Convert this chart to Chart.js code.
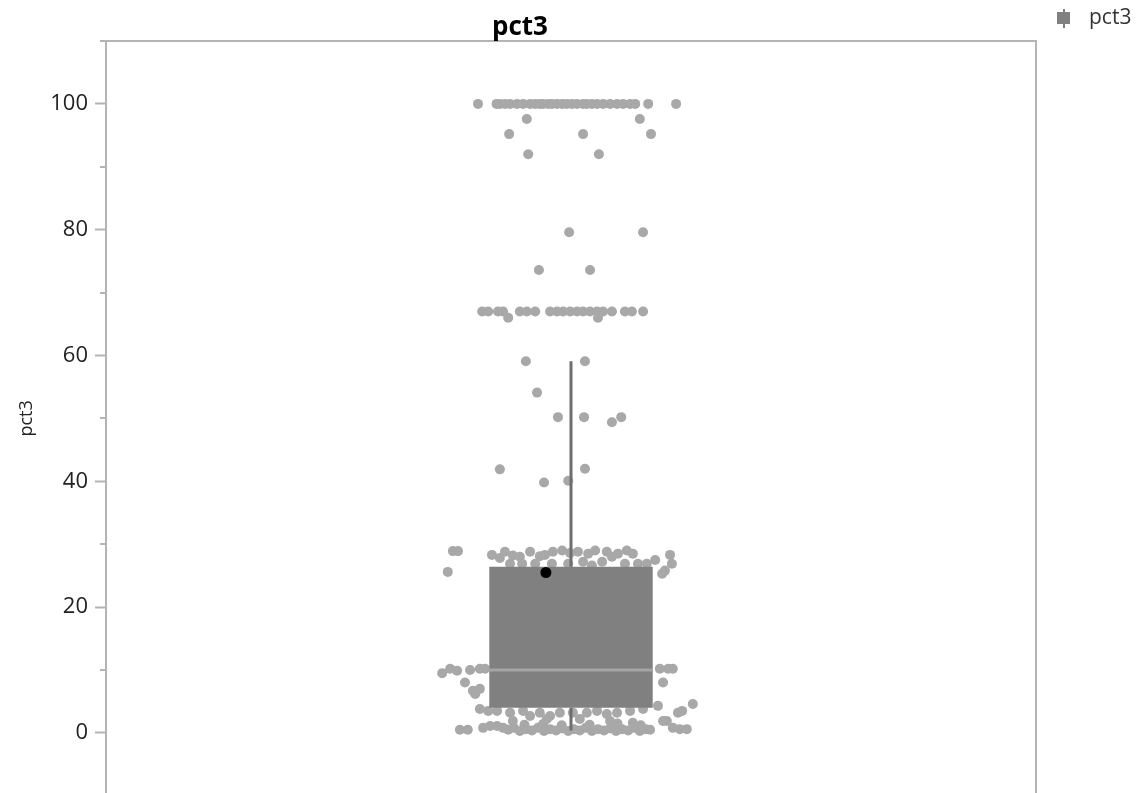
<!DOCTYPE html>
<html>
<head>
<meta charset="utf-8">
<script src="https://cdn.jsdelivr.net/npm/chart.js@4/dist/chart.umd.min.js"></script>
<style>
  html, body { margin: 0; padding: 0; background: #ffffff; overflow: hidden; }
  #wrap { position: relative; width: 1142px; height: 816px; }
</style>
</head>
<body>
<div id="wrap"><canvas id="c" width="1142" height="816"></canvas></div>
<script>
// ---------- data ----------
const categories = ['pct3'];
const seriesName = 'pct3';

// individual observations (value) and their horizontal jitter (same order)
const pointValues = [
  100,100,100,100,100,100,100,100,100,100,100,100,100,100,100,100,100,100,100,100,100,100,100,100,100,100,100,100,100,100,
  97.6,97.6,95.2,95.2,95.2,92.0,92.0,79.6,79.6,73.6,73.6,
  67,67,67,67,67,67,67,67,67,67,67,67,67,67,67,67,67,67,67,67,
  66.0,66.0,59.1,59.1,54.1,50.2,50.2,50.2,49.4,41.9,42.0,39.8,40.1,
  28.9,28.9,25.6,28.3,28.8,28.2,26.9,28.8,28.3,28.8,29.0,26.9,26.9,28.8,28.5,29.0,28.8,27.2,27.2,28.5,
  29.0,28.5,26.9,26.9,28.3,26.9,25.8,25.3,26.9,26.9,26.6,26.9,27.8,28.0,28.1,28.6,28.0,27.5,
  9.5,10.2,9.9,8.0,6.7,7.0,6.2,10.0,10.2,10.2,10.2,10.2,10.2,8.0,
  10,10,10,10,10,10,10,15.4,18.2,12.5,20,22.7,5.6,6.5,
  3.8,3.5,3.5,3.2,3.5,2.7,3.2,2.7,3.2,3.2,3.2,3.5,3.0,3.2,3.5,3.8,4.3,1.9,3.2,3.5,4.6,
  1.9,2.2,2.2,1.9,1.6,1.9,
  0.5,0.5,0.8,1.1,1.1,0.8,0.5,0.8,0.3,0.6,0.4,0.8,0.3,0.6,0.4,0.7,0.3,0.6,0.4,0.8,0.3,0.6,0.4,0.7,0.3,0.6,0.4,0.8,0.3,0.6,0.5,0.8,0.6,0.6,
  1.3,1.4,1.2,1.3,1.5,1.2
];
const pointJitter = [
  -20,-16,-15.3,-14.2,-13.1,-11.6,-10.3,-8.8,-7.7,-6.7,-6,-4.9,-4.1,-3,-1.9,-0.9,0.2,1.3,2.6,3.4,4.5,5.6,6.9,8.4,9.9,11.2,12.7,13.8,16.6,22.6,
  -9.5,14.8,-13.3,2.6,17.2,-9.2,6.0,-0.4,15.5,-6.9,4.1,
  -19.1,-17.8,-15.7,-14.6,-11.0,-9.5,-7.7,-4.5,-3.0,-1.7,-0.2,1.3,2.6,4.1,5.6,6.9,8.8,11.6,13.1,15.5,
  -13.5,5.8,-9.7,3.0,-7.3,-2.8,2.8,10.8,8.8,-15.3,3.0,-5.8,-0.6,
  -25.4,-24.3,-26.5,-17.0,-14.2,-12.5,-13.1,-8.8,-5.6,-3.9,-1.9,-7.7,-4.1,1.5,3.7,5.2,7.7,2.6,6.7,10.1,
  12.0,13.3,14.4,16.3,21.3,21.7,20.2,19.6,-10.5,-0.6,4.5,11.6,-15.3,-11.0,-6.7,-0.2,8.8,18.1,
  -27.7,-26.0,-24.5,-22.8,-21.1,-19.6,-20.6,-21.7,-19.6,-18.5,19.1,20.9,21.9,19.8,
  -14,-9,-4,2,7,12,16,-6,4,9,-11,0,-3,11,
  -19.6,-17.8,-15.9,-13.1,-10.3,-8.8,-6.7,-4.5,-2.4,0.4,3.4,5.6,7.7,9.9,12.7,15.5,18.7,20.6,23.0,23.9,26.2,
  -12.5,-5.2,1.9,8.4,13.3,19.8,
  -23.9,-22.2,-18.9,-17.4,-15.9,-14.6,-13.5,-12.3,-11,-9.7,-8.4,-7.1,-5.8,-4.5,-3.2,-1.9,-0.6,0.6,1.9,3.2,4.5,5.8,7.1,8.4,9.7,11,12.3,13.5,14.8,16.1,17.0,21.9,23.4,24.9,
  -10,-6,-2,4,10,15
];

// box-plot summary
const quartiles = [4.0, 26.4];      // Q1, Q3
const medianValue = 10.0;
const whiskerLow = 0.4;
const whiskerHigh = 59.1;
const meanValue = 25.5;
const meanJitter = -5.4;

// y axis
const yMin = -10, yMax = 110, yStep = 10;
const yLabelTicks = [0, 20, 40, 60, 80, 100];

// ---------- styling ----------
const FONT = "'Open Sans', 'Noto Sans', sans-serif";
const boxHalf = 17.6;   // half box width in jitter units (x scale -100..100)

const points = pointValues.map((v, i) => ({ x: pointJitter[i], y: v }));

const framePlugin = {
  id: 'frame',
  beforeDatasetsDraw(chart) {
    const { ctx, chartArea: a } = chart;
    const ys = chart.scales.y;
    ctx.save();
    ctx.strokeStyle = '#b4b4b4';
    ctx.lineWidth = 2;
    ctx.strokeRect(a.left, a.top, a.right - a.left, a.bottom - a.top);
    ys.ticks.forEach(t => {
      if (yLabelTicks.includes(t.value)) return;
      const py = Math.round(ys.getPixelForValue(t.value));
      ctx.beginPath();
      ctx.moveTo(a.left - 6, py);
      ctx.lineTo(a.left, py);
      ctx.stroke();
    });
    ctx.restore();
  },
  afterDraw(chart) {
    const { ctx } = chart;
    ctx.save();
    ctx.fillStyle = '#000000';
    ctx.font = 'bold 26px ' + FONT;
    ctx.textAlign = 'center';
    ctx.textBaseline = 'middle';
    ctx.fillText(seriesName, 520, 28);
    ctx.fillStyle = '#808080';
    ctx.fillRect(1057, 12, 13, 12);
    ctx.fillRect(1063, 9, 2, 19);
    ctx.fillStyle = '#333333';
    ctx.font = '21px ' + FONT;
    ctx.textAlign = 'left';
    ctx.fillText(seriesName, 1089, 18);
    ctx.restore();
  }
};

const line = (label, data, color, width, order) => ({
  type: 'line', label, data, borderColor: color, borderWidth: width,
  pointRadius: 0, fill: false, order, xAxisID: 'x', yAxisID: 'y'
});

new Chart(document.getElementById('c'), {
  type: 'scatter',
  data: {
    labels: categories,
    datasets: [
      {
        type: 'scatter', label: seriesName, data: points,
        backgroundColor: '#a8a8a8', borderWidth: 0, pointRadius: 5, order: 5
      },
      Object.assign(line('box Q3', [{ x: -boxHalf, y: quartiles[1] }, { x: boxHalf, y: quartiles[1] }], 'rgba(0,0,0,0)', 0, 4),
        { fill: '+1', backgroundColor: '#808080' }),
      line('box Q1', [{ x: -boxHalf, y: quartiles[0] }, { x: boxHalf, y: quartiles[0] }], 'rgba(0,0,0,0)', 0, 4),
      line('upper whisker', [{ x: 0, y: quartiles[1] }, { x: 0, y: whiskerHigh }], '#6e6e6e', 3, 3),
      line('lower whisker', [{ x: 0, y: quartiles[0] }, { x: 0, y: whiskerLow }], '#6e6e6e', 3, 3),
      line('median', [{ x: -boxHalf, y: medianValue }, { x: boxHalf, y: medianValue }], '#a4a4a4', 3, 2),
      {
        type: 'scatter', label: 'mean', data: [{ x: meanJitter, y: meanValue }],
        backgroundColor: '#000000', borderWidth: 0, pointRadius: 5.5, order: 1
      }
    ]
  },
  plugins: [framePlugin],
  options: {
    responsive: false,
    animation: false,
    events: [],
    layout: { padding: { left: 0, right: 106, top: 41, bottom: 0 } },
    plugins: { legend: { display: false }, title: { display: false }, tooltip: { enabled: false } },
    scales: {
      x: { type: 'linear', min: -100, max: 100, display: false, offset: false },
      y: {
        type: 'linear', min: yMin, max: yMax,
        afterFit(scale) { scale.width = 106; },
        border: { display: false },
        grid: {
          drawOnChartArea: false, tickLength: 11, tickWidth: 2,
          tickColor: c => yLabelTicks.includes(c.tick.value) ? '#b4b4b4' : 'rgba(0,0,0,0)'
        },
        ticks: {
          stepSize: yStep, padding: 7, color: '#222222',
          font: { family: FONT, size: 22 },
          callback: v => yLabelTicks.includes(v) ? String(v) : ''
        },
        title: {
          display: true, text: seriesName, color: '#222222',
          font: { family: FONT, size: 18 }, padding: { top: 16, bottom: 4 }
        }
      }
    }
  }
});
</script>
</body>
</html>
